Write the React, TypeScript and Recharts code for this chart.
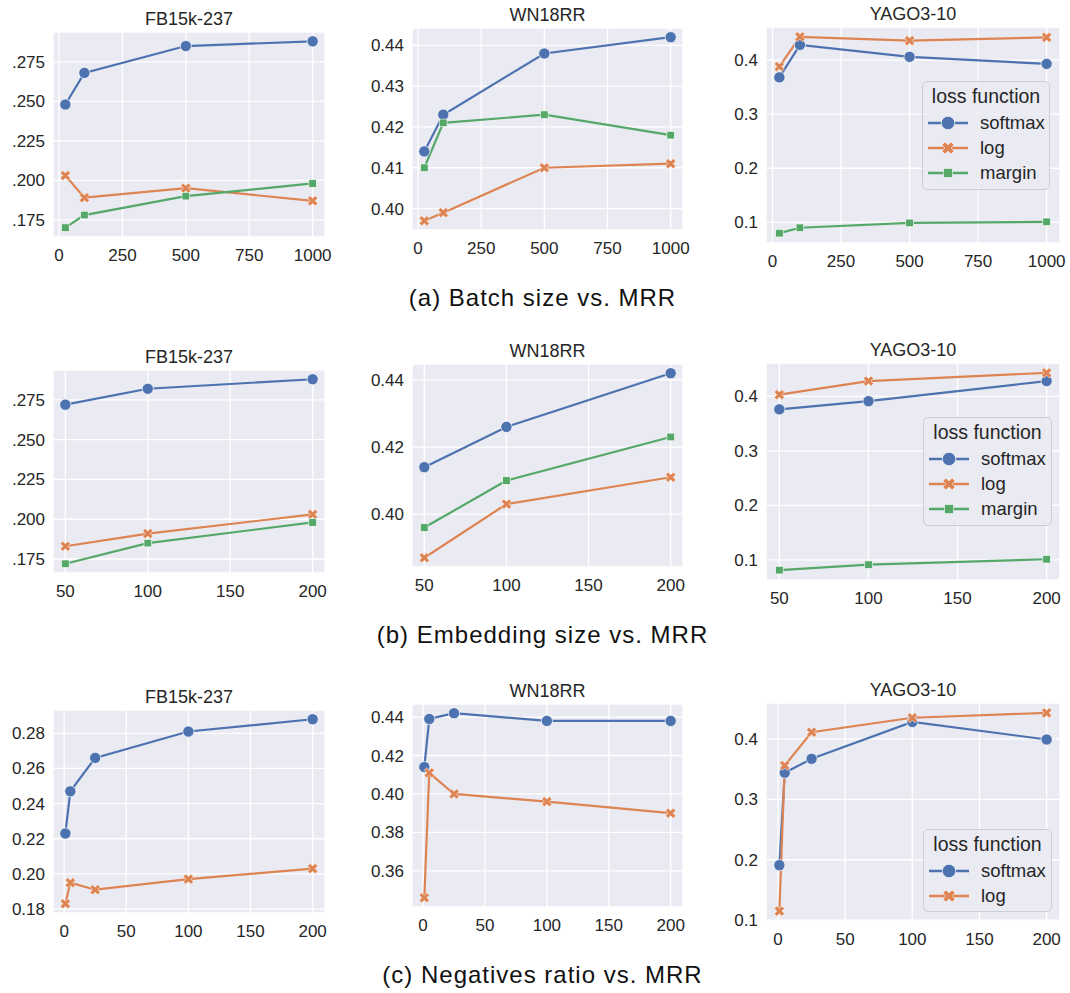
import { LineChart, Line, XAxis, YAxis, CartesianGrid, Legend } from 'recharts'

const FONT = '"Liberation Sans", Arial, Helvetica, sans-serif'
const BLUE = '#4c72b0'
const ORANGE = '#dd8452'
const GREEN = '#55a868'
const TEXT = '#262626'

// x values
const batchSizes = [25, 100, 500, 1000]
const embSizes = [50, 100, 200]
const negRatios = [1, 5, 25, 100, 200]

// (a) batch size vs. MRR
const fbBatchSoftmax = [0.248, 0.268, 0.285, 0.288]
const fbBatchLog = [0.203, 0.189, 0.195, 0.187]
const fbBatchMargin = [0.170, 0.178, 0.190, 0.198]
const wnBatchSoftmax = [0.414, 0.423, 0.438, 0.442]
const wnBatchLog = [0.397, 0.399, 0.410, 0.411]
const wnBatchMargin = [0.410, 0.421, 0.423, 0.418]
const yagoBatchSoftmax = [0.368, 0.428, 0.406, 0.393]
const yagoBatchLog = [0.388, 0.443, 0.436, 0.442]
const yagoBatchMargin = [0.080, 0.090, 0.099, 0.101]

// (b) embedding size vs. MRR
const fbEmbSoftmax = [0.272, 0.282, 0.288]
const fbEmbLog = [0.183, 0.191, 0.203]
const fbEmbMargin = [0.172, 0.185, 0.198]
const wnEmbSoftmax = [0.414, 0.426, 0.442]
const wnEmbLog = [0.387, 0.403, 0.411]
const wnEmbMargin = [0.396, 0.410, 0.423]
const yagoEmbSoftmax = [0.376, 0.391, 0.428]
const yagoEmbLog = [0.403, 0.428, 0.443]
const yagoEmbMargin = [0.081, 0.091, 0.101]

// (c) negatives ratio vs. MRR
const fbNegSoftmax = [0.223, 0.247, 0.266, 0.281, 0.288]
const fbNegLog = [0.183, 0.195, 0.191, 0.197, 0.203]
const wnNegSoftmax = [0.414, 0.439, 0.442, 0.438, 0.438]
const wnNegLog = [0.346, 0.411, 0.400, 0.396, 0.390]
const yagoNegSoftmax = [0.191, 0.344, 0.367, 0.428, 0.399]
const yagoNegLog = [0.115, 0.356, 0.411, 0.435, 0.443]

// tick labels
const batchTicks = [0, 250, 500, 750, 1000]
const embTicks = [50, 100, 150, 200]
const negTicks = [0, 50, 100, 150, 200]
const fbTicksA = [0.175, 0.2, 0.225, 0.25, 0.275]
const fbTicksC = [0.18, 0.2, 0.22, 0.24, 0.26, 0.28]
const wnTicksA = [0.40, 0.41, 0.42, 0.43, 0.44]
const wnTicksB = [0.40, 0.42, 0.44]
const wnTicksC = [0.36, 0.38, 0.40, 0.42, 0.44]
const yagoTicks = [0.1, 0.2, 0.3, 0.4]

type Shape = 'circle' | 'x' | 'square'
const SERIES: Record<string, { color: string; shape: Shape }> = {
  softmax: { color: BLUE, shape: 'circle' },
  log: { color: ORANGE, shape: 'x' },
  margin: { color: GREEN, shape: 'square' },
}

function Marker({ cx, cy, shape, color, s = 1 }: { cx: number; cy: number; shape: Shape; color: string; s?: number }) {
  if (cx == null || cy == null) return null
  if (shape === 'circle') {
    return <circle cx={cx} cy={cy} r={5.6 * s} fill={color} stroke="#fff" strokeWidth={0.7} />
  }
  if (shape === 'square') {
    const h = 3.8 * s
    return <rect x={cx - h} y={cy - h} width={2 * h} height={2 * h} fill={color} stroke="#fff" strokeWidth={0.6} />
  }
  const L = 5.4 * s
  const w = 1.8 * s
  const pts = [
    [-w, -L], [w, -L], [w, -w], [L, -w], [L, w], [w, w],
    [w, L], [-w, L], [-w, w], [-L, w], [-L, -w], [-w, -w],
  ].map(([x, y]) => `${cx + x},${cy + y}`).join(' ')
  return <polygon points={pts} fill={color} stroke="#fff" strokeWidth={0.5} transform={`rotate(45 ${cx} ${cy})`} />
}

function pad(lo: number, hi: number): [number, number] {
  const m = (hi - lo) * 0.05
  return [lo - m, hi + m]
}

function LegendBox({ names }: { names: string[] }) {
  return (
    <div style={{
      position: 'relative', boxSizing: 'border-box', width: '100%', height: '100%',
      border: '1px solid #cdcdd4', borderRadius: 5, background: 'rgba(234,234,242,0.85)',
      fontFamily: FONT, color: TEXT,
    }}>
      <div style={{ position: 'absolute', top: 3, left: 0, right: 0, textAlign: 'center', fontSize: 19.5, lineHeight: '22px' }}>
        loss function
      </div>
      {names.map((n, i) => (
        <div key={n} style={{ position: 'absolute', left: 4, top: 29 + i * 25, height: 24, display: 'flex', alignItems: 'center' }}>
          <svg width={42} height={24}>
            <line x1={1} y1={12} x2={41} y2={12} stroke={SERIES[n].color} strokeWidth={2.4} />
            <Marker cx={21} cy={12} shape={SERIES[n].shape} color={SERIES[n].color} s={1.2} />
          </svg>
          <span style={{ marginLeft: 11, fontSize: 18.5, lineHeight: '24px' }}>{n}</span>
        </div>
      ))}
    </div>
  )
}

interface PanelProps {
  title: string
  xs: number[]
  series: { name: string; values: number[] }[]
  plot: { x: number; y: number; w: number; h: number }
  xTicks: number[]
  yTicks: number[]
  yDomain: [number, number]
  yFmt: (v: number) => string
  legend?: { x: number; y: number; w: number; h: number }
}

function Panel({ title, xs, series, plot, xTicks, yTicks, yDomain, yFmt, legend }: PanelProps) {
  const data = xs.map((x, i) => {
    const row: Record<string, number> = { x }
    series.forEach(s => { row[s.name] = s.values[i] })
    return row
  })
  const chartLeft = plot.x - 50
  const chartTop = plot.y - 10
  const tickStyle = { fill: TEXT, fontSize: 17, fontFamily: FONT }
  return (
    <>
      <div style={{
        position: 'absolute', left: plot.x, width: plot.w, top: plot.y - 24, textAlign: 'center',
        fontFamily: FONT, fontSize: 18, lineHeight: '22px', color: TEXT,
      }}>{title}</div>
      <div style={{ position: 'absolute', left: chartLeft, top: chartTop }}>
        <LineChart width={plot.w + 60} height={plot.h + 50} data={data}
          margin={{ top: 10, right: 10, bottom: 0, left: 0 }}>
          <CartesianGrid fill="#eaeaf2" stroke="#ffffff" strokeWidth={1.3} />
          <XAxis dataKey="x" type="number" domain={pad(xs[0], xs[xs.length - 1])} ticks={xTicks}
            allowDataOverflow axisLine={false} tickLine={false} tickSize={0} tickMargin={12}
            height={40} tick={tickStyle} interval={0} />
          <YAxis type="number" domain={yDomain} ticks={yTicks} allowDataOverflow axisLine={false}
            tickLine={false} tickSize={0} tickMargin={8} width={50} tick={tickStyle}
            tickFormatter={yFmt} interval={0} />
          {series.map(s => (
            <Line key={s.name} dataKey={s.name} stroke={SERIES[s.name].color} strokeWidth={2.2}
              isAnimationActive={false} activeDot={false}
              dot={(p: any) => <Marker key={`${s.name}-${p.index}`} cx={p.cx} cy={p.cy}
                shape={SERIES[s.name].shape} color={SERIES[s.name].color} />} />
          ))}
          {legend && (
            <Legend layout="horizontal" verticalAlign="middle" align="center"
              wrapperStyle={{ position: 'absolute', left: legend.x - chartLeft, top: legend.y - chartTop, width: legend.w, height: legend.h }}
              content={() => <LegendBox names={series.map(s => s.name)} />} />
          )}
        </LineChart>
      </div>
    </>
  )
}

const f3 = (v: number) => v.toFixed(3).replace(/^0/, '')
const f2 = (v: number) => v.toFixed(2)
const f1 = (v: number) => v.toFixed(1)

const captionStyle: React.CSSProperties = {
  position: 'absolute', left: 0, width: 1085, textAlign: 'center', fontFamily: FONT,
  fontSize: 24, letterSpacing: 1, color: '#111', lineHeight: '28px',
}

export default function App() {
  return (
    <div style={{ position: 'absolute', left: 0, top: 0, width: 1070, height: 993, background: '#fff' }}>
      {/* row (a) */}
      <Panel title="FB15k-237" xs={batchSizes} plot={{ x: 53, y: 32, w: 272, h: 205 }}
        series={[{ name: 'softmax', values: fbBatchSoftmax }, { name: 'log', values: fbBatchLog }, { name: 'margin', values: fbBatchMargin }]}
        xTicks={batchTicks} yTicks={fbTicksA} yDomain={pad(0.170, 0.288)} yFmt={f3} />
      <Panel title="WN18RR" xs={batchSizes} plot={{ x: 412, y: 28, w: 271, h: 202 }}
        series={[{ name: 'softmax', values: wnBatchSoftmax }, { name: 'log', values: wnBatchLog }, { name: 'margin', values: wnBatchMargin }]}
        xTicks={batchTicks} yTicks={wnTicksA} yDomain={pad(0.397, 0.442)} yFmt={f2} />
      <Panel title="YAGO3-10" xs={batchSizes} plot={{ x: 766, y: 27, w: 294, h: 216 }}
        series={[{ name: 'softmax', values: yagoBatchSoftmax }, { name: 'log', values: yagoBatchLog }, { name: 'margin', values: yagoBatchMargin }]}
        xTicks={batchTicks} yTicks={yagoTicks} yDomain={pad(0.080, 0.443)} yFmt={f1}
        legend={{ x: 922, y: 81, w: 128, h: 109 }} />
      <div style={{ ...captionStyle, top: 284 }}>(a) Batch size vs. MRR</div>

      {/* row (b) */}
      <Panel title="FB15k-237" xs={embSizes} plot={{ x: 53, y: 370, w: 272, h: 203 }}
        series={[{ name: 'softmax', values: fbEmbSoftmax }, { name: 'log', values: fbEmbLog }, { name: 'margin', values: fbEmbMargin }]}
        xTicks={embTicks} yTicks={fbTicksA} yDomain={pad(0.172, 0.288)} yFmt={f3} />
      <Panel title="WN18RR" xs={embSizes} plot={{ x: 412, y: 364, w: 271, h: 203 }}
        series={[{ name: 'softmax', values: wnEmbSoftmax }, { name: 'log', values: wnEmbLog }, { name: 'margin', values: wnEmbMargin }]}
        xTicks={embTicks} yTicks={wnTicksB} yDomain={pad(0.387, 0.442)} yFmt={f2} />
      <Panel title="YAGO3-10" xs={embSizes} plot={{ x: 766, y: 363, w: 294, h: 217 }}
        series={[{ name: 'softmax', values: yagoEmbSoftmax }, { name: 'log', values: yagoEmbLog }, { name: 'margin', values: yagoEmbMargin }]}
        xTicks={embTicks} yTicks={yagoTicks} yDomain={pad(0.081, 0.443)} yFmt={f1}
        legend={{ x: 923, y: 417, w: 129, h: 109 }} />
      <div style={{ ...captionStyle, top: 621 }}>(b) Embedding size vs. MRR</div>

      {/* row (c) */}
      <Panel title="FB15k-237" xs={negRatios} plot={{ x: 53, y: 710, w: 272, h: 203 }}
        series={[{ name: 'softmax', values: fbNegSoftmax }, { name: 'log', values: fbNegLog }]}
        xTicks={negTicks} yTicks={fbTicksC} yDomain={pad(0.183, 0.288)} yFmt={f2} />
      <Panel title="WN18RR" xs={negRatios} plot={{ x: 412, y: 704, w: 271, h: 203 }}
        series={[{ name: 'softmax', values: wnNegSoftmax }, { name: 'log', values: wnNegLog }]}
        xTicks={negTicks} yTicks={wnTicksC} yDomain={pad(0.346, 0.442)} yFmt={f2} />
      <Panel title="YAGO3-10" xs={negRatios} plot={{ x: 766, y: 703, w: 294, h: 218 }}
        series={[{ name: 'softmax', values: yagoNegSoftmax }, { name: 'log', values: yagoNegLog }]}
        xTicks={negTicks} yTicks={yagoTicks} yDomain={pad(0.115, 0.443)} yFmt={f1}
        legend={{ x: 923, y: 829, w: 129, h: 83 }} />
      <div style={{ ...captionStyle, top: 961 }}>(c) Negatives ratio vs. MRR</div>
    </div>
  )
}
